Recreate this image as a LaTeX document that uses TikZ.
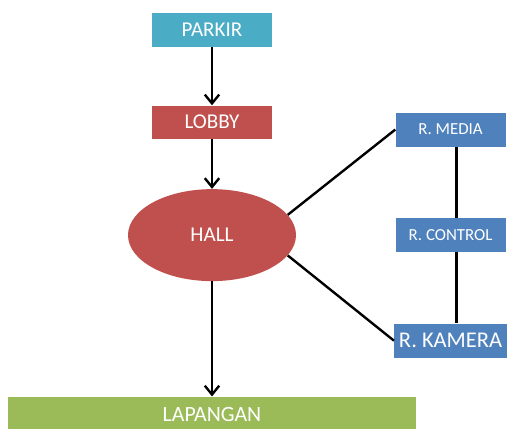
\documentclass[tikz,border=0pt]{standalone}
\usepackage{fontspec}
\setmainfont{Carlito}
\usepackage{xcolor}
\usepackage{tikz}
\usetikzlibrary{positioning, arrows.meta, shapes.geometric}
\definecolor{aquaFill}{HTML}{4BACC6}
\definecolor{redFill}{HTML}{C0504D}
\definecolor{greenFill}{HTML}{9BBB59}
\definecolor{blueFill}{HTML}{4F81BD}
\tikzset{
    area/.style={rectangle, draw=none, text=white, align=center, minimum width=3cm, minimum height=0.85cm, font=\fontsize{15}{18}\selectfont},
    ruang/.style={rectangle, draw=none, fill=blueFill, text=white, align=center, minimum width=2.75cm, minimum height=0.85cm, font=\fontsize{12}{14}\selectfont},
    hub/.style={ellipse, draw=none, fill=redFill, text=white, minimum width=4.2cm, minimum height=2.3cm, font=\fontsize{15}{18}\selectfont},
    arrow/.style={-{Straight Barb[length=2.2mm, width=3.6mm]}, line width=1.7pt},
    link/.style={line width=1.7pt}
}
\begin{document}
\begin{tikzpicture}
        \useasboundingbox (0,0) rectangle (12.675,-10.7);
        \node[area, fill=aquaFill] (Parkir) at (5.3,-0.75) {PARKIR};
        \node[area, fill=redFill, below=1.45cm of Parkir, minimum height=0.825cm] (Lobby) {LOBBY};
        \node[hub, below=1.25cm of Lobby] (Hall) {HALL};
        \node[area, fill=greenFill, below=2.875cm of Hall, minimum width=10.2cm, minimum height=0.9cm, font=\fontsize{15.5}{18}\selectfont] (Lapangan) {LAPANGAN};
        
        \node[ruang, right=2.475cm of Hall] (Control) {R. CONTROL};
        \node[ruang, above=1.775cm of Control] (Media) {R. MEDIA};
        \node[ruang, below=1.775cm of Control, minimum width=2.8cm, font=\fontsize{16}{19}\selectfont] (Kamera) {R. KAMERA};
        
        \draw[arrow] (Parkir) -- (Lobby);
        \draw[arrow] (Lobby) -- (Hall);
        \draw[arrow] (Hall) -- (Lapangan);
        \draw[link] (Hall.15) -- (Media.west);
        \draw[link] (Hall.-15) -- (Kamera.west);
        \draw[link] ([xshift=0.15cm]Media.south) -- ([xshift=0.15cm]Control.north);
        \draw[link] ([xshift=0.15cm]Control.south) -- ([xshift=0.15cm]Control.south |- Kamera.north);
    \end{tikzpicture}
\end{document}
